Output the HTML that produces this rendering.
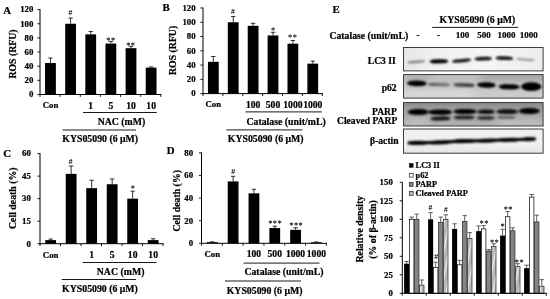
<!DOCTYPE html>
<html lang="en">
<head>
<meta charset="utf-8">
<title>Figure</title>
<style>
html,body{margin:0;padding:0;background:#fff;}
body{width:550px;height:299px;overflow:hidden;}
svg{display:block;opacity:0.999;}
svg text{font-family:"Liberation Serif","Times New Roman",serif;font-weight:bold;fill:#000;stroke:#000;stroke-width:0.22px;}
svg text.s{stroke:none;text-rendering:geometricPrecision;}
</style>
</head>
<body>
<svg width="550" height="299" viewBox="0 0 550 299">
<defs>
<filter id="b1" x="-5%" y="-50%" width="110%" height="200%"><feGaussianBlur stdDeviation="0.95"/></filter>
<filter id="b2" x="-20%" y="-100%" width="140%" height="300%"><feGaussianBlur stdDeviation="5 2.2"/></filter>
<clipPath id="c2"><rect x="403.5" y="74.6" width="139.6" height="23.5"/></clipPath>
<clipPath id="c3"><rect x="403.5" y="102.6" width="139.6" height="23.4"/></clipPath>
<linearGradient id="g1" x1="0" y1="0" x2="1" y2="0">
<stop offset="0" stop-color="#e6e6e6"/><stop offset="0.2" stop-color="#f0f0f0"/><stop offset="0.6" stop-color="#f5f5f5"/><stop offset="1" stop-color="#ededed"/>
</linearGradient>
<linearGradient id="g2" x1="0" y1="0" x2="0" y2="1">
<stop offset="0" stop-color="#bebebe"/><stop offset="1" stop-color="#cecece"/>
</linearGradient>
<linearGradient id="g3" x1="0" y1="0" x2="0" y2="1">
<stop offset="0" stop-color="#969696"/><stop offset="0.45" stop-color="#a6a6a6"/><stop offset="1" stop-color="#b0b0b0"/>
</linearGradient>
<linearGradient id="g4" x1="0" y1="0" x2="0" y2="1">
<stop offset="0" stop-color="#efefef"/><stop offset="0.6" stop-color="#f2f2f2"/><stop offset="1" stop-color="#e4e4e4"/>
</linearGradient>
<pattern id="hatch" width="5.2" height="10" patternUnits="userSpaceOnUse" patternTransform="translate(1.5 0) skewX(-11)">
<rect width="5.2" height="10" fill="#b8b8b8"/><rect x="1.6" width="1.3" height="10" fill="#f2f2f2"/>
</pattern>
</defs>
<rect width="550" height="299" fill="#fff"/>
<line x1="50.47" y1="58.06" x2="50.47" y2="63.02" stroke="#000" stroke-width="0.8"/>
<line x1="48.27" y1="58.06" x2="52.67" y2="58.06" stroke="#000" stroke-width="0.8"/>
<rect x="45.07" y="63.02" width="10.80" height="31.48" fill="#000"/>
<line x1="70.60" y1="18.09" x2="70.60" y2="23.75" stroke="#000" stroke-width="0.8"/>
<line x1="68.40" y1="18.09" x2="72.80" y2="18.09" stroke="#000" stroke-width="0.8"/>
<rect x="65.20" y="23.75" width="10.80" height="70.75" fill="#000"/>
<line x1="90.73" y1="31.53" x2="90.73" y2="34.36" stroke="#000" stroke-width="0.8"/>
<line x1="88.53" y1="31.53" x2="92.93" y2="31.53" stroke="#000" stroke-width="0.8"/>
<rect x="85.33" y="34.36" width="10.80" height="60.14" fill="#000"/>
<line x1="110.87" y1="41.44" x2="110.87" y2="43.56" stroke="#000" stroke-width="0.8"/>
<line x1="108.67" y1="41.44" x2="113.07" y2="41.44" stroke="#000" stroke-width="0.8"/>
<rect x="105.47" y="43.56" width="10.80" height="50.94" fill="#000"/>
<line x1="131.00" y1="46.39" x2="131.00" y2="48.16" stroke="#000" stroke-width="0.8"/>
<line x1="128.80" y1="46.39" x2="133.20" y2="46.39" stroke="#000" stroke-width="0.8"/>
<rect x="125.60" y="48.16" width="10.80" height="46.34" fill="#000"/>
<line x1="151.13" y1="66.91" x2="151.13" y2="67.61" stroke="#000" stroke-width="0.8"/>
<line x1="148.93" y1="66.91" x2="153.33" y2="66.91" stroke="#000" stroke-width="0.8"/>
<rect x="145.73" y="67.61" width="10.80" height="26.89" fill="#000"/>
<text x="70.30" y="14.91" font-size="7.6" text-anchor="middle" class="s" font-weight="normal" fill="#777">#</text>
<text x="108.40" y="42.95" font-size="8.4" text-anchor="middle" class="s" font-weight="normal" fill="#606060">*</text>
<text x="113.00" y="42.95" font-size="8.4" text-anchor="middle" class="s" font-weight="normal" fill="#606060">*</text>
<text x="128.30" y="47.55" font-size="8.4" text-anchor="middle" class="s" font-weight="normal" fill="#606060">*</text>
<text x="132.90" y="47.55" font-size="8.4" text-anchor="middle" class="s" font-weight="normal" fill="#606060">*</text>
<line x1="40.00" y1="9.10" x2="40.00" y2="95.00" stroke="#000" stroke-width="1.0"/>
<line x1="39.50" y1="94.50" x2="161.30" y2="94.50" stroke="#000" stroke-width="1.0"/>
<line x1="37.40" y1="94.50" x2="40.00" y2="94.50" stroke="#000" stroke-width="0.9"/>
<text x="33.40" y="97.30" font-size="8.8" text-anchor="end">0</text>
<line x1="37.40" y1="80.35" x2="40.00" y2="80.35" stroke="#000" stroke-width="0.9"/>
<text x="33.40" y="83.15" font-size="8.8" text-anchor="end">20</text>
<line x1="37.40" y1="66.20" x2="40.00" y2="66.20" stroke="#000" stroke-width="0.9"/>
<text x="33.40" y="69.00" font-size="8.8" text-anchor="end">40</text>
<line x1="37.40" y1="52.05" x2="40.00" y2="52.05" stroke="#000" stroke-width="0.9"/>
<text x="33.40" y="54.85" font-size="8.8" text-anchor="end">60</text>
<line x1="37.40" y1="37.90" x2="40.00" y2="37.90" stroke="#000" stroke-width="0.9"/>
<text x="33.40" y="40.70" font-size="8.8" text-anchor="end">80</text>
<line x1="37.40" y1="23.75" x2="40.00" y2="23.75" stroke="#000" stroke-width="0.9"/>
<text x="33.40" y="26.55" font-size="8.8" text-anchor="end">100</text>
<line x1="37.40" y1="9.60" x2="40.00" y2="9.60" stroke="#000" stroke-width="0.9"/>
<text x="33.40" y="12.40" font-size="8.8" text-anchor="end">120</text>
<line x1="40.00" y1="94.50" x2="40.00" y2="96.90" stroke="#000" stroke-width="0.9"/>
<line x1="60.13" y1="94.50" x2="60.13" y2="96.90" stroke="#000" stroke-width="0.9"/>
<line x1="80.27" y1="94.50" x2="80.27" y2="96.90" stroke="#000" stroke-width="0.9"/>
<line x1="100.40" y1="94.50" x2="100.40" y2="96.90" stroke="#000" stroke-width="0.9"/>
<line x1="120.53" y1="94.50" x2="120.53" y2="96.90" stroke="#000" stroke-width="0.9"/>
<line x1="140.67" y1="94.50" x2="140.67" y2="96.90" stroke="#000" stroke-width="0.9"/>
<line x1="160.80" y1="94.50" x2="160.80" y2="96.90" stroke="#000" stroke-width="0.9"/>
<text x="50.47" y="108.40" font-size="8.8" text-anchor="middle">Con</text>
<text x="90.73" y="108.90" font-size="9.6" text-anchor="middle">1</text>
<text x="110.87" y="108.90" font-size="9.6" text-anchor="middle">5</text>
<text x="131.00" y="108.90" font-size="9.6" text-anchor="middle">10</text>
<text x="151.13" y="108.90" font-size="9.6" text-anchor="middle">10</text>
<text x="16.20" y="54.00" font-size="9.8" text-anchor="middle" transform="rotate(-90 16.20 54.00)">ROS (RFU)</text>
<text x="3.30" y="14.00" font-size="10.8" text-anchor="start">A</text>
<line x1="83.00" y1="112.50" x2="156.70" y2="112.50" stroke="#000" stroke-width="0.9"/>
<text x="121.50" y="125.00" font-size="9.8" text-anchor="middle">NAC (mM)</text>
<line x1="62.60" y1="130.00" x2="136.00" y2="130.00" stroke="#000" stroke-width="0.9"/>
<text x="100.20" y="142.00" font-size="9.8" text-anchor="middle">KYS05090 (6 μM)</text>
<line x1="213.34" y1="56.51" x2="213.34" y2="61.86" stroke="#000" stroke-width="0.8"/>
<line x1="211.14" y1="56.51" x2="215.54" y2="56.51" stroke="#000" stroke-width="0.8"/>
<rect x="207.94" y="61.86" width="10.80" height="31.74" fill="#000"/>
<line x1="233.22" y1="16.56" x2="233.22" y2="22.27" stroke="#000" stroke-width="0.8"/>
<line x1="231.03" y1="16.56" x2="235.42" y2="16.56" stroke="#000" stroke-width="0.8"/>
<rect x="227.82" y="22.27" width="10.80" height="71.33" fill="#000"/>
<line x1="253.11" y1="23.34" x2="253.11" y2="25.83" stroke="#000" stroke-width="0.8"/>
<line x1="250.91" y1="23.34" x2="255.31" y2="23.34" stroke="#000" stroke-width="0.8"/>
<rect x="247.71" y="25.83" width="10.80" height="67.77" fill="#000"/>
<line x1="272.99" y1="32.25" x2="272.99" y2="35.46" stroke="#000" stroke-width="0.8"/>
<line x1="270.79" y1="32.25" x2="275.19" y2="32.25" stroke="#000" stroke-width="0.8"/>
<rect x="267.59" y="35.46" width="10.80" height="58.14" fill="#000"/>
<line x1="292.88" y1="40.46" x2="292.88" y2="43.67" stroke="#000" stroke-width="0.8"/>
<line x1="290.68" y1="40.46" x2="295.07" y2="40.46" stroke="#000" stroke-width="0.8"/>
<rect x="287.48" y="43.67" width="10.80" height="49.93" fill="#000"/>
<line x1="312.76" y1="61.14" x2="312.76" y2="63.64" stroke="#000" stroke-width="0.8"/>
<line x1="310.56" y1="61.14" x2="314.96" y2="61.14" stroke="#000" stroke-width="0.8"/>
<rect x="307.36" y="63.64" width="10.80" height="29.96" fill="#000"/>
<text x="233.00" y="14.41" font-size="7.6" text-anchor="middle" class="s" font-weight="normal" fill="#777">#</text>
<text x="273.10" y="32.95" font-size="8.4" text-anchor="middle" class="s" font-weight="normal" fill="#606060">*</text>
<text x="290.20" y="40.15" font-size="8.4" text-anchor="middle" class="s" font-weight="normal" fill="#606060">*</text>
<text x="294.80" y="40.15" font-size="8.4" text-anchor="middle" class="s" font-weight="normal" fill="#606060">*</text>
<line x1="203.00" y1="7.50" x2="203.00" y2="94.10" stroke="#000" stroke-width="1.0"/>
<line x1="202.50" y1="93.60" x2="322.80" y2="93.60" stroke="#000" stroke-width="1.0"/>
<line x1="200.40" y1="93.60" x2="203.00" y2="93.60" stroke="#000" stroke-width="0.9"/>
<text x="195.60" y="96.40" font-size="8.8" text-anchor="end">0</text>
<line x1="200.40" y1="79.33" x2="203.00" y2="79.33" stroke="#000" stroke-width="0.9"/>
<text x="195.60" y="82.13" font-size="8.8" text-anchor="end">20</text>
<line x1="200.40" y1="65.07" x2="203.00" y2="65.07" stroke="#000" stroke-width="0.9"/>
<text x="195.60" y="67.87" font-size="8.8" text-anchor="end">40</text>
<line x1="200.40" y1="50.80" x2="203.00" y2="50.80" stroke="#000" stroke-width="0.9"/>
<text x="195.60" y="53.60" font-size="8.8" text-anchor="end">60</text>
<line x1="200.40" y1="36.53" x2="203.00" y2="36.53" stroke="#000" stroke-width="0.9"/>
<text x="195.60" y="39.33" font-size="8.8" text-anchor="end">80</text>
<line x1="200.40" y1="22.27" x2="203.00" y2="22.27" stroke="#000" stroke-width="0.9"/>
<text x="195.60" y="25.07" font-size="8.8" text-anchor="end">100</text>
<line x1="200.40" y1="8.00" x2="203.00" y2="8.00" stroke="#000" stroke-width="0.9"/>
<text x="195.60" y="10.80" font-size="8.8" text-anchor="end">120</text>
<line x1="203.00" y1="93.60" x2="203.00" y2="96.00" stroke="#000" stroke-width="0.9"/>
<line x1="222.88" y1="93.60" x2="222.88" y2="96.00" stroke="#000" stroke-width="0.9"/>
<line x1="242.77" y1="93.60" x2="242.77" y2="96.00" stroke="#000" stroke-width="0.9"/>
<line x1="262.65" y1="93.60" x2="262.65" y2="96.00" stroke="#000" stroke-width="0.9"/>
<line x1="282.53" y1="93.60" x2="282.53" y2="96.00" stroke="#000" stroke-width="0.9"/>
<line x1="302.42" y1="93.60" x2="302.42" y2="96.00" stroke="#000" stroke-width="0.9"/>
<line x1="322.30" y1="93.60" x2="322.30" y2="96.00" stroke="#000" stroke-width="0.9"/>
<text x="213.34" y="107.20" font-size="8.8" text-anchor="middle">Con</text>
<text x="253.11" y="107.70" font-size="9.6" text-anchor="middle">100</text>
<text x="272.99" y="107.70" font-size="9.6" text-anchor="middle">500</text>
<text x="292.88" y="107.70" font-size="9.6" text-anchor="middle">1000</text>
<text x="312.76" y="107.70" font-size="9.6" text-anchor="middle">1000</text>
<text x="175.60" y="50.40" font-size="9.8" text-anchor="middle" transform="rotate(-90 175.60 50.40)">ROS (RFU)</text>
<text x="162.60" y="11.20" font-size="10.8" text-anchor="start">B</text>
<line x1="245.40" y1="111.90" x2="321.70" y2="111.90" stroke="#000" stroke-width="0.9"/>
<text x="286.10" y="124.80" font-size="9.8" text-anchor="middle">Catalase (unit/mL)</text>
<line x1="226.30" y1="129.90" x2="302.40" y2="129.90" stroke="#000" stroke-width="0.9"/>
<text x="265.70" y="142.30" font-size="9.8" text-anchor="middle">KYS05090 (6 μM)</text>
<line x1="50.65" y1="239.04" x2="50.65" y2="240.10" stroke="#000" stroke-width="0.8"/>
<line x1="48.45" y1="239.04" x2="52.85" y2="239.04" stroke="#000" stroke-width="0.8"/>
<rect x="45.25" y="240.10" width="10.80" height="3.60" fill="#000"/>
<line x1="71.15" y1="166.06" x2="71.15" y2="173.87" stroke="#000" stroke-width="0.8"/>
<line x1="68.95" y1="166.06" x2="73.35" y2="166.06" stroke="#000" stroke-width="0.8"/>
<rect x="65.75" y="173.87" width="10.80" height="69.83" fill="#000"/>
<line x1="91.65" y1="180.18" x2="91.65" y2="188.14" stroke="#000" stroke-width="0.8"/>
<line x1="89.45" y1="180.18" x2="93.85" y2="180.18" stroke="#000" stroke-width="0.8"/>
<rect x="86.25" y="188.14" width="10.80" height="55.56" fill="#000"/>
<line x1="112.15" y1="178.98" x2="112.15" y2="184.23" stroke="#000" stroke-width="0.8"/>
<line x1="109.95" y1="178.98" x2="114.35" y2="178.98" stroke="#000" stroke-width="0.8"/>
<rect x="106.75" y="184.23" width="10.80" height="59.47" fill="#000"/>
<line x1="132.65" y1="191.14" x2="132.65" y2="198.65" stroke="#000" stroke-width="0.8"/>
<line x1="130.45" y1="191.14" x2="134.85" y2="191.14" stroke="#000" stroke-width="0.8"/>
<rect x="127.25" y="198.65" width="10.80" height="45.05" fill="#000"/>
<line x1="153.15" y1="238.74" x2="153.15" y2="240.10" stroke="#000" stroke-width="0.8"/>
<line x1="150.95" y1="238.74" x2="155.35" y2="238.74" stroke="#000" stroke-width="0.8"/>
<rect x="147.75" y="240.10" width="10.80" height="3.60" fill="#000"/>
<text x="70.60" y="163.71" font-size="7.6" text-anchor="middle" class="s" font-weight="normal" fill="#777">#</text>
<text x="132.80" y="191.25" font-size="8.4" text-anchor="middle" class="s" font-weight="normal" fill="#606060">*</text>
<line x1="40.00" y1="153.10" x2="40.00" y2="244.20" stroke="#000" stroke-width="1.0"/>
<line x1="39.50" y1="243.70" x2="163.50" y2="243.70" stroke="#000" stroke-width="1.0"/>
<line x1="37.40" y1="243.70" x2="40.00" y2="243.70" stroke="#000" stroke-width="0.9"/>
<text x="30.80" y="246.50" font-size="8.8" text-anchor="end">0</text>
<line x1="37.40" y1="221.17" x2="40.00" y2="221.17" stroke="#000" stroke-width="0.9"/>
<text x="30.80" y="223.97" font-size="8.8" text-anchor="end">15</text>
<line x1="37.40" y1="198.65" x2="40.00" y2="198.65" stroke="#000" stroke-width="0.9"/>
<text x="30.80" y="201.45" font-size="8.8" text-anchor="end">30</text>
<line x1="37.40" y1="176.12" x2="40.00" y2="176.12" stroke="#000" stroke-width="0.9"/>
<text x="30.80" y="178.93" font-size="8.8" text-anchor="end">45</text>
<line x1="37.40" y1="153.60" x2="40.00" y2="153.60" stroke="#000" stroke-width="0.9"/>
<text x="30.80" y="156.40" font-size="8.8" text-anchor="end">60</text>
<line x1="40.00" y1="243.70" x2="40.00" y2="246.10" stroke="#000" stroke-width="0.9"/>
<line x1="60.50" y1="243.70" x2="60.50" y2="246.10" stroke="#000" stroke-width="0.9"/>
<line x1="81.00" y1="243.70" x2="81.00" y2="246.10" stroke="#000" stroke-width="0.9"/>
<line x1="101.50" y1="243.70" x2="101.50" y2="246.10" stroke="#000" stroke-width="0.9"/>
<line x1="122.00" y1="243.70" x2="122.00" y2="246.10" stroke="#000" stroke-width="0.9"/>
<line x1="142.50" y1="243.70" x2="142.50" y2="246.10" stroke="#000" stroke-width="0.9"/>
<line x1="163.00" y1="243.70" x2="163.00" y2="246.10" stroke="#000" stroke-width="0.9"/>
<text x="50.65" y="257.70" font-size="8.8" text-anchor="middle">Con</text>
<text x="91.65" y="258.20" font-size="9.6" text-anchor="middle">1</text>
<text x="112.15" y="258.20" font-size="9.6" text-anchor="middle">5</text>
<text x="132.65" y="258.20" font-size="9.6" text-anchor="middle">10</text>
<text x="153.15" y="258.20" font-size="9.6" text-anchor="middle">10</text>
<text x="16.00" y="198.20" font-size="9.8" text-anchor="middle" transform="rotate(-90 16.00 198.20)">Cell death (%)</text>
<text x="3.20" y="157.00" font-size="10.8" text-anchor="start">C</text>
<line x1="82.70" y1="262.50" x2="156.40" y2="262.50" stroke="#000" stroke-width="0.9"/>
<text x="120.60" y="274.80" font-size="9.8" text-anchor="middle">NAC (mM)</text>
<line x1="61.70" y1="279.50" x2="135.90" y2="279.50" stroke="#000" stroke-width="0.9"/>
<text x="100.00" y="291.80" font-size="9.8" text-anchor="middle">KYS05090 (6 μM)</text>
<line x1="212.31" y1="241.83" x2="212.31" y2="242.17" stroke="#000" stroke-width="0.8"/>
<line x1="210.11" y1="241.83" x2="214.51" y2="241.83" stroke="#000" stroke-width="0.8"/>
<rect x="206.91" y="242.17" width="10.80" height="1.13" fill="#000"/>
<line x1="233.12" y1="176.29" x2="233.12" y2="181.38" stroke="#000" stroke-width="0.8"/>
<line x1="230.93" y1="176.29" x2="235.32" y2="176.29" stroke="#000" stroke-width="0.8"/>
<rect x="227.72" y="181.38" width="10.80" height="61.92" fill="#000"/>
<line x1="253.94" y1="189.29" x2="253.94" y2="193.35" stroke="#000" stroke-width="0.8"/>
<line x1="251.74" y1="189.29" x2="256.14" y2="189.29" stroke="#000" stroke-width="0.8"/>
<rect x="248.54" y="193.35" width="10.80" height="49.95" fill="#000"/>
<line x1="274.76" y1="226.24" x2="274.76" y2="228.05" stroke="#000" stroke-width="0.8"/>
<line x1="272.56" y1="226.24" x2="276.96" y2="226.24" stroke="#000" stroke-width="0.8"/>
<rect x="269.36" y="228.05" width="10.80" height="15.25" fill="#000"/>
<line x1="295.57" y1="227.71" x2="295.57" y2="229.85" stroke="#000" stroke-width="0.8"/>
<line x1="293.37" y1="227.71" x2="297.77" y2="227.71" stroke="#000" stroke-width="0.8"/>
<rect x="290.17" y="229.85" width="10.80" height="13.45" fill="#000"/>
<line x1="316.39" y1="241.94" x2="316.39" y2="242.28" stroke="#000" stroke-width="0.8"/>
<line x1="314.19" y1="241.94" x2="318.59" y2="241.94" stroke="#000" stroke-width="0.8"/>
<rect x="310.99" y="242.28" width="10.80" height="1.02" fill="#000"/>
<text x="233.20" y="173.81" font-size="7.6" text-anchor="middle" class="s" font-weight="normal" fill="#777">#</text>
<text x="270.30" y="226.15" font-size="8.4" text-anchor="middle" class="s" font-weight="normal" fill="#606060">*</text>
<text x="274.90" y="226.15" font-size="8.4" text-anchor="middle" class="s" font-weight="normal" fill="#606060">*</text>
<text x="279.50" y="226.15" font-size="8.4" text-anchor="middle" class="s" font-weight="normal" fill="#606060">*</text>
<text x="291.40" y="227.95" font-size="8.4" text-anchor="middle" class="s" font-weight="normal" fill="#606060">*</text>
<text x="296.00" y="227.95" font-size="8.4" text-anchor="middle" class="s" font-weight="normal" fill="#606060">*</text>
<text x="300.60" y="227.95" font-size="8.4" text-anchor="middle" class="s" font-weight="normal" fill="#606060">*</text>
<line x1="201.50" y1="152.40" x2="201.50" y2="243.80" stroke="#000" stroke-width="1.0"/>
<line x1="201.00" y1="243.30" x2="326.90" y2="243.30" stroke="#000" stroke-width="1.0"/>
<line x1="198.90" y1="243.30" x2="201.50" y2="243.30" stroke="#000" stroke-width="0.9"/>
<text x="193.10" y="246.10" font-size="8.8" text-anchor="end">0</text>
<line x1="198.90" y1="220.70" x2="201.50" y2="220.70" stroke="#000" stroke-width="0.9"/>
<text x="193.10" y="223.50" font-size="8.8" text-anchor="end">20</text>
<line x1="198.90" y1="198.10" x2="201.50" y2="198.10" stroke="#000" stroke-width="0.9"/>
<text x="193.10" y="200.90" font-size="8.8" text-anchor="end">40</text>
<line x1="198.90" y1="175.50" x2="201.50" y2="175.50" stroke="#000" stroke-width="0.9"/>
<text x="193.10" y="178.30" font-size="8.8" text-anchor="end">60</text>
<line x1="198.90" y1="152.90" x2="201.50" y2="152.90" stroke="#000" stroke-width="0.9"/>
<text x="193.10" y="155.70" font-size="8.8" text-anchor="end">80</text>
<line x1="201.50" y1="243.30" x2="201.50" y2="245.70" stroke="#000" stroke-width="0.9"/>
<line x1="222.32" y1="243.30" x2="222.32" y2="245.70" stroke="#000" stroke-width="0.9"/>
<line x1="243.13" y1="243.30" x2="243.13" y2="245.70" stroke="#000" stroke-width="0.9"/>
<line x1="263.95" y1="243.30" x2="263.95" y2="245.70" stroke="#000" stroke-width="0.9"/>
<line x1="284.77" y1="243.30" x2="284.77" y2="245.70" stroke="#000" stroke-width="0.9"/>
<line x1="305.58" y1="243.30" x2="305.58" y2="245.70" stroke="#000" stroke-width="0.9"/>
<line x1="326.40" y1="243.30" x2="326.40" y2="245.70" stroke="#000" stroke-width="0.9"/>
<text x="212.31" y="256.80" font-size="8.8" text-anchor="middle">Con</text>
<text x="253.94" y="257.30" font-size="9.6" text-anchor="middle">100</text>
<text x="274.76" y="257.30" font-size="9.6" text-anchor="middle">500</text>
<text x="295.57" y="257.30" font-size="9.6" text-anchor="middle">1000</text>
<text x="316.39" y="257.30" font-size="9.6" text-anchor="middle">1000</text>
<text x="179.60" y="200.80" font-size="9.8" text-anchor="middle" transform="rotate(-90 179.60 200.80)">Cell death (%)</text>
<text x="166.80" y="154.40" font-size="10.8" text-anchor="start">D</text>
<line x1="243.70" y1="263.10" x2="319.50" y2="263.10" stroke="#000" stroke-width="0.9"/>
<text x="284.00" y="275.10" font-size="9.8" text-anchor="middle">Catalase (unit/mL)</text>
<line x1="224.90" y1="281.00" x2="301.00" y2="281.00" stroke="#000" stroke-width="0.9"/>
<text x="264.60" y="294.30" font-size="9.8" text-anchor="middle">KYS05090 (6 μM)</text>
<text x="332.50" y="12.60" font-size="10.8" text-anchor="start">E</text>
<text x="477.40" y="22.90" font-size="9.8" text-anchor="middle">KYS05090 (6 μM)</text>
<line x1="432.20" y1="27.40" x2="518.20" y2="27.40" stroke="#000" stroke-width="0.9"/>
<text x="329.40" y="38.50" font-size="9.75" text-anchor="start">Catalase (unit/mL)</text>
<text x="417.90" y="38.40" font-size="9.0" text-anchor="middle">-</text>
<text x="438.40" y="38.40" font-size="9.0" text-anchor="middle">-</text>
<text x="462.60" y="38.40" font-size="9.0" text-anchor="middle">100</text>
<text x="484.00" y="38.40" font-size="9.0" text-anchor="middle">500</text>
<text x="506.40" y="38.40" font-size="9.0" text-anchor="middle">1000</text>
<text x="528.70" y="38.40" font-size="9.0" text-anchor="middle">1000</text>
<text x="395.80" y="64.20" font-size="9.6" text-anchor="end">LC3 II</text>
<text x="396.60" y="90.70" font-size="9.6" text-anchor="end">p62</text>
<text x="396.90" y="114.60" font-size="9.6" text-anchor="end">PARP</text>
<text x="397.30" y="124.00" font-size="9.6" text-anchor="end">Cleaved PARP</text>
<text x="398.60" y="143.60" font-size="9.6" text-anchor="end">β-actin</text>
<g filter="url(#b1)">
</g>
<rect x="403.5" y="47.5" width="139.60000000000002" height="23.4" fill="url(#g1)"/>
<g filter="url(#b1)">
<rect x="407.50" y="60.70" width="17.50" height="2.40" rx="3.84" ry="1.20" fill="#808080" opacity="1.0" transform="rotate(-4.57 416.25 61.90)"/>
<rect x="429.50" y="59.20" width="19.00" height="4.20" rx="6.72" ry="2.10" fill="#000" opacity="1.0" transform="rotate(-1.21 439.00 61.30)"/>
<rect x="452.00" y="59.05" width="19.00" height="3.30" rx="5.28" ry="1.65" fill="#0c0c0c" opacity="1.0" transform="rotate(-5.41 461.50 60.70)"/>
<rect x="474.50" y="56.95" width="17.50" height="3.50" rx="5.60" ry="1.75" fill="#080808" opacity="1.0" transform="rotate(-1.96 483.25 58.70)"/>
<rect x="495.50" y="56.45" width="17.70" height="3.50" rx="5.60" ry="1.75" fill="#080808" opacity="1.0" transform="rotate(1.62 504.35 58.20)"/>
<rect x="516.50" y="58.50" width="18.50" height="2.20" rx="3.52" ry="1.10" fill="#999" opacity="1.0" transform="rotate(5.56 525.75 59.60)"/>
</g>
<rect x="403.5" y="47.5" width="139.60000000000002" height="23.4" fill="none" stroke="#2a2a2a" stroke-width="0.9"/>
<rect x="403.5" y="74.6" width="139.60000000000002" height="23.5" fill="url(#g2)"/>
<g clip-path="url(#c2)">
<rect x="480" y="73" width="70" height="8" fill="#777" opacity="0.3" filter="url(#b2)"/>
<rect x="404" y="74" width="26" height="6" fill="#888" opacity="0.3" filter="url(#b2)"/>
<rect x="404" y="90" width="70" height="8" fill="#fff" opacity="0.25" filter="url(#b2)"/>
</g>
<g filter="url(#b1)">
<rect x="407.00" y="80.40" width="20.00" height="5.80" rx="9.28" ry="2.90" fill="#000" opacity="1.0" transform="rotate(1.15 417.00 83.30)"/>
<rect x="428.00" y="82.85" width="21.50" height="3.30" rx="5.28" ry="1.65" fill="#707070" opacity="1.0" transform="rotate(1.60 438.75 84.50)"/>
<rect x="428.50" y="82.70" width="8.50" height="3.00" rx="4.25" ry="1.50" fill="#555" opacity="0.6" transform="rotate(1.35 432.75 84.20)"/>
<rect x="453.50" y="83.15" width="21.00" height="3.70" rx="5.92" ry="1.85" fill="#4a4a4a" opacity="1.0" transform="rotate(2.73 464.00 85.00)"/>
<rect x="464.00" y="83.70" width="10.50" height="3.40" rx="5.25" ry="1.70" fill="#333" opacity="0.6" transform="rotate(1.64 469.25 85.40)"/>
<rect x="477.00" y="82.20" width="19.00" height="5.60" rx="8.96" ry="2.80" fill="#060606" opacity="1.0" transform="rotate(1.81 486.50 85.00)"/>
<rect x="498.50" y="84.20" width="21.50" height="5.20" rx="8.32" ry="2.60" fill="#040404" opacity="1.0" transform="rotate(1.60 509.25 86.80)"/>
<rect x="521.00" y="82.30" width="20.60" height="8.60" rx="10.30" ry="4.30" fill="#000" opacity="1.0" transform="rotate(0.00 531.30 86.60)"/>
</g>
<rect x="403.5" y="74.6" width="139.60000000000002" height="23.5" fill="none" stroke="#2a2a2a" stroke-width="0.9"/>
<rect x="403.5" y="102.6" width="139.60000000000002" height="23.4" fill="url(#g3)"/>
<g clip-path="url(#c3)">
<rect x="406" y="118" width="22" height="7" fill="#fff" opacity="0.22" filter="url(#b2)"/>
<rect x="498" y="119" width="44" height="7" fill="#fff" opacity="0.22" filter="url(#b2)"/>
<rect x="404" y="101" width="140" height="4" fill="#555" opacity="0.25" filter="url(#b2)"/>
</g>
<g filter="url(#b1)">
<rect x="407.50" y="109.10" width="21.50" height="5.80" rx="9.28" ry="2.90" fill="#000" opacity="1.0" transform="rotate(0.00 418.25 112.00)"/>
<rect x="428.50" y="109.60" width="23.50" height="5.20" rx="8.32" ry="2.60" fill="#040404" opacity="1.0" transform="rotate(0.00 440.25 112.20)"/>
<rect x="453.50" y="109.10" width="23.00" height="5.00" rx="8.00" ry="2.50" fill="#040404" opacity="1.0" transform="rotate(0.00 465.00 111.60)"/>
<rect x="477.00" y="109.50" width="18.00" height="4.40" rx="7.04" ry="2.20" fill="#0c0c0c" opacity="1.0" transform="rotate(0.00 486.00 111.70)"/>
<rect x="496.50" y="109.20" width="21.50" height="4.80" rx="7.68" ry="2.40" fill="#080808" opacity="1.0" transform="rotate(0.00 507.25 111.60)"/>
<rect x="518.50" y="108.10" width="21.50" height="5.80" rx="9.28" ry="2.90" fill="#000" opacity="1.0" transform="rotate(0.00 529.25 111.00)"/>
<rect x="430.50" y="116.60" width="20.00" height="3.80" rx="6.08" ry="1.90" fill="#0c0c0c" opacity="1.0" transform="rotate(-1.15 440.50 118.50)"/>
<rect x="454.00" y="115.85" width="20.50" height="3.30" rx="5.28" ry="1.65" fill="#1c1c1c" opacity="1.0" transform="rotate(0.00 464.25 117.50)"/>
<rect x="477.00" y="116.35" width="17.50" height="3.30" rx="5.28" ry="1.65" fill="#262626" opacity="1.0" transform="rotate(0.00 485.75 118.00)"/>
<rect x="497.50" y="116.25" width="17.50" height="2.30" rx="3.68" ry="1.15" fill="#505050" opacity="1.0" transform="rotate(0.00 506.25 117.40)"/>
</g>
<rect x="403.5" y="102.6" width="139.60000000000002" height="23.4" fill="none" stroke="#2a2a2a" stroke-width="0.9"/>
<rect x="403.5" y="129.0" width="139.60000000000002" height="24.2" fill="url(#g4)"/>
<g filter="url(#b1)">
<path d="M409 142.9 C418 143.2 424 143.0 429 142.7 C438 142.8 446 142.2 452 141.6 C460 141.0 470 140.8 476 140.9 C484 140.7 492 140.4 498 140.1 C506 139.8 514 139.7 520 139.5 C526 139.2 531 139.0 534.5 138.9" fill="none" stroke="#050505" stroke-width="3.2" stroke-linecap="round"/>
<rect x="408.50" y="140.80" width="19.50" height="4.20" rx="6.72" ry="2.10" fill="#000" opacity="1.0" transform="rotate(-0.59 418.25 142.90)"/>
<rect x="429.50" y="140.40" width="21.50" height="4.00" rx="6.40" ry="2.00" fill="#000" opacity="1.0" transform="rotate(-2.40 440.25 142.40)"/>
<rect x="453.00" y="139.00" width="22.50" height="4.20" rx="6.72" ry="2.10" fill="#000" opacity="1.0" transform="rotate(-1.02 464.25 141.10)"/>
<rect x="477.00" y="138.60" width="20.50" height="4.00" rx="6.40" ry="2.00" fill="#000" opacity="1.0" transform="rotate(-1.40 487.25 140.60)"/>
<rect x="499.00" y="137.90" width="20.50" height="4.00" rx="6.40" ry="2.00" fill="#000" opacity="1.0" transform="rotate(-0.84 509.25 139.90)"/>
<rect x="521.00" y="137.30" width="14.50" height="4.00" rx="6.40" ry="2.00" fill="#000" opacity="1.0" transform="rotate(-1.58 528.25 139.30)"/>
</g>
<rect x="403.5" y="129.0" width="139.60000000000002" height="24.2" fill="none" stroke="#2a2a2a" stroke-width="0.9"/>
<line x1="406.62" y1="261.48" x2="406.62" y2="263.70" stroke="#3a3a3a" stroke-width="0.8"/>
<line x1="404.43" y1="261.48" x2="408.82" y2="261.48" stroke="#3a3a3a" stroke-width="0.8"/>
<rect x="404.10" y="263.70" width="5.05" height="29.60" fill="#000"/>
<rect x="409.45" y="219.30" width="4.45" height="74.00" fill="#fff" stroke="#000" stroke-width="0.7"/>
<line x1="411.68" y1="217.08" x2="411.68" y2="219.30" stroke="#3a3a3a" stroke-width="0.8"/>
<line x1="409.48" y1="217.08" x2="413.88" y2="217.08" stroke="#3a3a3a" stroke-width="0.8"/>
<line x1="416.73" y1="214.12" x2="416.73" y2="219.30" stroke="#3a3a3a" stroke-width="0.8"/>
<line x1="414.53" y1="214.12" x2="418.93" y2="214.12" stroke="#3a3a3a" stroke-width="0.8"/>
<rect x="414.50" y="219.30" width="4.45" height="74.00" fill="#858585" stroke="#222" stroke-width="0.7"/>
<line x1="421.77" y1="279.98" x2="421.77" y2="285.16" stroke="#3a3a3a" stroke-width="0.8"/>
<line x1="419.57" y1="279.98" x2="423.97" y2="279.98" stroke="#3a3a3a" stroke-width="0.8"/>
<rect x="419.55" y="285.16" width="4.45" height="8.14" fill="url(#hatch)" stroke="#222" stroke-width="0.7"/>
<line x1="430.62" y1="212.64" x2="430.62" y2="219.30" stroke="#3a3a3a" stroke-width="0.8"/>
<line x1="428.43" y1="212.64" x2="432.82" y2="212.64" stroke="#3a3a3a" stroke-width="0.8"/>
<rect x="428.10" y="219.30" width="5.05" height="74.00" fill="#000"/>
<rect x="433.45" y="267.40" width="4.45" height="25.90" fill="#fff" stroke="#000" stroke-width="0.7"/>
<line x1="435.68" y1="262.22" x2="435.68" y2="267.40" stroke="#3a3a3a" stroke-width="0.8"/>
<line x1="433.48" y1="262.22" x2="437.88" y2="262.22" stroke="#3a3a3a" stroke-width="0.8"/>
<line x1="440.73" y1="217.08" x2="440.73" y2="222.26" stroke="#3a3a3a" stroke-width="0.8"/>
<line x1="438.53" y1="217.08" x2="442.93" y2="217.08" stroke="#3a3a3a" stroke-width="0.8"/>
<rect x="438.50" y="222.26" width="4.45" height="71.04" fill="#858585" stroke="#222" stroke-width="0.7"/>
<line x1="445.77" y1="214.86" x2="445.77" y2="219.30" stroke="#3a3a3a" stroke-width="0.8"/>
<line x1="443.57" y1="214.86" x2="447.97" y2="214.86" stroke="#3a3a3a" stroke-width="0.8"/>
<rect x="443.55" y="219.30" width="4.45" height="74.00" fill="url(#hatch)" stroke="#222" stroke-width="0.7"/>
<line x1="454.62" y1="223.74" x2="454.62" y2="228.92" stroke="#3a3a3a" stroke-width="0.8"/>
<line x1="452.43" y1="223.74" x2="456.82" y2="223.74" stroke="#3a3a3a" stroke-width="0.8"/>
<rect x="452.10" y="228.92" width="5.05" height="64.38" fill="#000"/>
<rect x="457.45" y="264.81" width="4.45" height="28.49" fill="#fff" stroke="#000" stroke-width="0.7"/>
<line x1="459.68" y1="260.37" x2="459.68" y2="264.81" stroke="#3a3a3a" stroke-width="0.8"/>
<line x1="457.48" y1="260.37" x2="461.88" y2="260.37" stroke="#3a3a3a" stroke-width="0.8"/>
<line x1="464.73" y1="215.60" x2="464.73" y2="221.52" stroke="#3a3a3a" stroke-width="0.8"/>
<line x1="462.53" y1="215.60" x2="466.93" y2="215.60" stroke="#3a3a3a" stroke-width="0.8"/>
<rect x="462.50" y="221.52" width="4.45" height="71.78" fill="#858585" stroke="#222" stroke-width="0.7"/>
<line x1="469.77" y1="232.62" x2="469.77" y2="238.54" stroke="#3a3a3a" stroke-width="0.8"/>
<line x1="467.57" y1="232.62" x2="471.97" y2="232.62" stroke="#3a3a3a" stroke-width="0.8"/>
<rect x="467.55" y="238.54" width="4.45" height="54.76" fill="url(#hatch)" stroke="#222" stroke-width="0.7"/>
<line x1="478.62" y1="225.96" x2="478.62" y2="231.14" stroke="#3a3a3a" stroke-width="0.8"/>
<line x1="476.42" y1="225.96" x2="480.82" y2="225.96" stroke="#3a3a3a" stroke-width="0.8"/>
<rect x="476.10" y="231.14" width="5.05" height="62.16" fill="#000"/>
<rect x="481.45" y="228.92" width="4.45" height="64.38" fill="#fff" stroke="#000" stroke-width="0.7"/>
<line x1="483.67" y1="225.59" x2="483.67" y2="228.92" stroke="#3a3a3a" stroke-width="0.8"/>
<line x1="481.47" y1="225.59" x2="485.87" y2="225.59" stroke="#3a3a3a" stroke-width="0.8"/>
<line x1="488.72" y1="249.64" x2="488.72" y2="251.12" stroke="#3a3a3a" stroke-width="0.8"/>
<line x1="486.52" y1="249.64" x2="490.92" y2="249.64" stroke="#3a3a3a" stroke-width="0.8"/>
<rect x="486.50" y="251.12" width="4.45" height="42.18" fill="#858585" stroke="#222" stroke-width="0.7"/>
<line x1="493.77" y1="243.72" x2="493.77" y2="246.31" stroke="#3a3a3a" stroke-width="0.8"/>
<line x1="491.57" y1="243.72" x2="495.97" y2="243.72" stroke="#3a3a3a" stroke-width="0.8"/>
<rect x="491.55" y="246.31" width="4.45" height="46.99" fill="url(#hatch)" stroke="#222" stroke-width="0.7"/>
<line x1="502.62" y1="229.29" x2="502.62" y2="235.58" stroke="#3a3a3a" stroke-width="0.8"/>
<line x1="500.42" y1="229.29" x2="504.82" y2="229.29" stroke="#3a3a3a" stroke-width="0.8"/>
<rect x="500.10" y="235.58" width="5.05" height="57.72" fill="#000"/>
<rect x="505.45" y="216.71" width="4.45" height="76.59" fill="#fff" stroke="#000" stroke-width="0.7"/>
<line x1="507.67" y1="211.53" x2="507.67" y2="216.71" stroke="#3a3a3a" stroke-width="0.8"/>
<line x1="505.47" y1="211.53" x2="509.87" y2="211.53" stroke="#3a3a3a" stroke-width="0.8"/>
<line x1="512.73" y1="227.81" x2="512.73" y2="230.77" stroke="#3a3a3a" stroke-width="0.8"/>
<line x1="510.53" y1="227.81" x2="514.93" y2="227.81" stroke="#3a3a3a" stroke-width="0.8"/>
<rect x="510.50" y="230.77" width="4.45" height="62.53" fill="#858585" stroke="#222" stroke-width="0.7"/>
<line x1="517.77" y1="263.70" x2="517.77" y2="266.66" stroke="#3a3a3a" stroke-width="0.8"/>
<line x1="515.57" y1="263.70" x2="519.98" y2="263.70" stroke="#3a3a3a" stroke-width="0.8"/>
<rect x="515.55" y="266.66" width="4.45" height="26.64" fill="url(#hatch)" stroke="#222" stroke-width="0.7"/>
<line x1="526.62" y1="265.18" x2="526.62" y2="268.14" stroke="#3a3a3a" stroke-width="0.8"/>
<line x1="524.42" y1="265.18" x2="528.82" y2="265.18" stroke="#3a3a3a" stroke-width="0.8"/>
<rect x="524.10" y="268.14" width="5.05" height="25.16" fill="#000"/>
<rect x="529.45" y="197.10" width="4.45" height="96.20" fill="#fff" stroke="#000" stroke-width="0.7"/>
<line x1="531.67" y1="194.51" x2="531.67" y2="197.10" stroke="#3a3a3a" stroke-width="0.8"/>
<line x1="529.47" y1="194.51" x2="533.87" y2="194.51" stroke="#3a3a3a" stroke-width="0.8"/>
<line x1="536.72" y1="215.23" x2="536.72" y2="221.89" stroke="#3a3a3a" stroke-width="0.8"/>
<line x1="534.52" y1="215.23" x2="538.92" y2="215.23" stroke="#3a3a3a" stroke-width="0.8"/>
<rect x="534.50" y="221.89" width="4.45" height="71.41" fill="#858585" stroke="#222" stroke-width="0.7"/>
<line x1="541.77" y1="279.61" x2="541.77" y2="286.27" stroke="#3a3a3a" stroke-width="0.8"/>
<line x1="539.57" y1="279.61" x2="543.97" y2="279.61" stroke="#3a3a3a" stroke-width="0.8"/>
<rect x="539.55" y="286.27" width="4.45" height="7.03" fill="url(#hatch)" stroke="#222" stroke-width="0.7"/>
<text x="430.30" y="209.71" font-size="7.6" text-anchor="middle" class="s" font-weight="normal" fill="#777">#</text>
<text x="446.00" y="211.81" font-size="7.6" text-anchor="middle" class="s" font-weight="normal" fill="#777">#</text>
<text x="436.20" y="259.01" font-size="7.6" text-anchor="middle" class="s" font-weight="normal" fill="#777">#</text>
<text x="481.70" y="225.65" font-size="8.4" text-anchor="middle" class="s" font-weight="normal" fill="#606060">*</text>
<text x="486.30" y="225.65" font-size="8.4" text-anchor="middle" class="s" font-weight="normal" fill="#606060">*</text>
<text x="492.00" y="244.95" font-size="8.4" text-anchor="middle" class="s" font-weight="normal" fill="#606060">*</text>
<text x="496.60" y="244.95" font-size="8.4" text-anchor="middle" class="s" font-weight="normal" fill="#606060">*</text>
<text x="502.60" y="228.85" font-size="8.4" text-anchor="middle" class="s" font-weight="normal" fill="#606060">*</text>
<text x="505.80" y="211.75" font-size="8.4" text-anchor="middle" class="s" font-weight="normal" fill="#606060">*</text>
<text x="510.40" y="211.75" font-size="8.4" text-anchor="middle" class="s" font-weight="normal" fill="#606060">*</text>
<text x="516.90" y="264.65" font-size="8.4" text-anchor="middle" class="s" font-weight="normal" fill="#606060">*</text>
<text x="521.50" y="264.65" font-size="8.4" text-anchor="middle" class="s" font-weight="normal" fill="#606060">*</text>
<line x1="402.30" y1="182.20" x2="402.30" y2="293.80" stroke="#000" stroke-width="1.0"/>
<line x1="401.80" y1="293.30" x2="546.80" y2="293.30" stroke="#000" stroke-width="1.0"/>
<line x1="399.70" y1="293.30" x2="402.30" y2="293.30" stroke="#000" stroke-width="0.9"/>
<text x="392.80" y="296.30" font-size="8.8" text-anchor="end">0</text>
<line x1="399.70" y1="274.80" x2="402.30" y2="274.80" stroke="#000" stroke-width="0.9"/>
<text x="392.80" y="277.80" font-size="8.8" text-anchor="end">25</text>
<line x1="399.70" y1="256.30" x2="402.30" y2="256.30" stroke="#000" stroke-width="0.9"/>
<text x="392.80" y="259.30" font-size="8.8" text-anchor="end">50</text>
<line x1="399.70" y1="237.80" x2="402.30" y2="237.80" stroke="#000" stroke-width="0.9"/>
<text x="392.80" y="240.80" font-size="8.8" text-anchor="end">75</text>
<line x1="399.70" y1="219.30" x2="402.30" y2="219.30" stroke="#000" stroke-width="0.9"/>
<text x="392.80" y="222.30" font-size="8.8" text-anchor="end">100</text>
<line x1="399.70" y1="200.80" x2="402.30" y2="200.80" stroke="#000" stroke-width="0.9"/>
<text x="392.80" y="203.80" font-size="8.8" text-anchor="end">125</text>
<line x1="399.70" y1="182.30" x2="402.30" y2="182.30" stroke="#000" stroke-width="0.9"/>
<text x="392.80" y="185.30" font-size="8.8" text-anchor="end">150</text>
<line x1="402.30" y1="293.30" x2="402.30" y2="295.70" stroke="#000" stroke-width="0.9"/>
<line x1="426.30" y1="293.30" x2="426.30" y2="295.70" stroke="#000" stroke-width="0.9"/>
<line x1="450.30" y1="293.30" x2="450.30" y2="295.70" stroke="#000" stroke-width="0.9"/>
<line x1="474.30" y1="293.30" x2="474.30" y2="295.70" stroke="#000" stroke-width="0.9"/>
<line x1="498.30" y1="293.30" x2="498.30" y2="295.70" stroke="#000" stroke-width="0.9"/>
<line x1="522.30" y1="293.30" x2="522.30" y2="295.70" stroke="#000" stroke-width="0.9"/>
<line x1="546.30" y1="293.30" x2="546.30" y2="295.70" stroke="#000" stroke-width="0.9"/>
<text x="363.30" y="229.20" font-size="9.8" text-anchor="middle" transform="rotate(-90 363.30 229.20)">Relative density</text>
<text x="375.60" y="229.40" font-size="9.8" text-anchor="middle" transform="rotate(-90 375.60 229.40)">(% of β-actin)</text>
<rect x="409.30" y="163.50" width="3.80" height="3.80" fill="#000" stroke="#222" stroke-width="0.7"/>
<text x="415.60" y="168.20" font-size="8.3" text-anchor="start">LC3 II</text>
<rect x="409.30" y="173.30" width="3.80" height="3.80" fill="#fff" stroke="#222" stroke-width="0.7"/>
<text x="415.60" y="178.00" font-size="8.3" text-anchor="start">p62</text>
<rect x="409.30" y="182.50" width="3.80" height="3.80" fill="#858585" stroke="#222" stroke-width="0.7"/>
<text x="415.60" y="187.20" font-size="8.3" text-anchor="start">PARP</text>
<rect x="409.30" y="191.60" width="3.80" height="3.80" fill="url(#hatch)" stroke="#222" stroke-width="0.7"/>
<text x="415.60" y="196.30" font-size="8.3" text-anchor="start">Cleaved PARP</text>
</svg>
</body>
</html>
